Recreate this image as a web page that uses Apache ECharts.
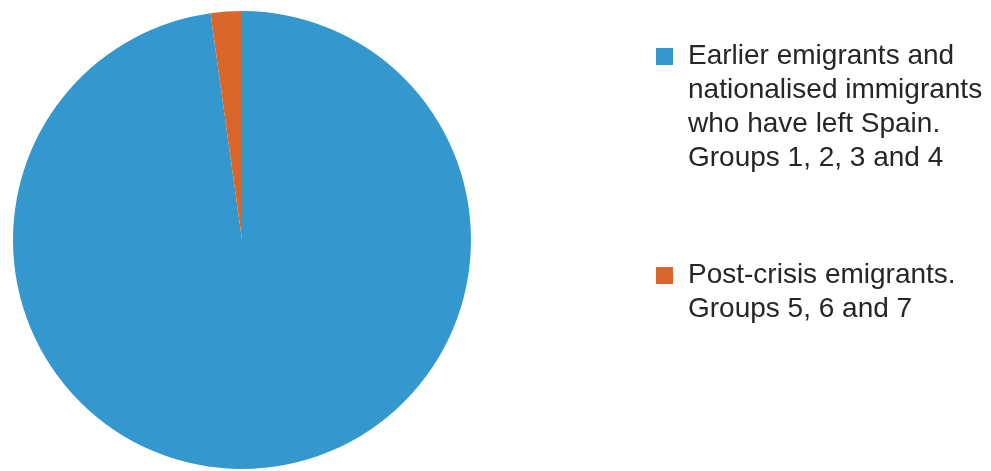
<!DOCTYPE html>
<html>
<head>
<meta charset="utf-8">
<script src="https://cdn.jsdelivr.net/npm/echarts@6/dist/echarts.min.js"></script>
<style>
html,body{margin:0;padding:0;background:#fff;}
#chart{width:991px;height:471px;}
</style>
</head>
<body>
<div id="chart"></div>
<script>
const categories = [
  'Earlier emigrants and\nnationalised immigrants\nwho have left Spain.\nGroups 1, 2, 3 and 4',
  'Post-crisis emigrants.\nGroups 5, 6 and 7'
];
const values = [97.8, 2.2];
const colors = ['#3497cd', '#d9662a'];

const LH = 34;
const chart = echarts.init(document.getElementById('chart'));
chart.setOption({
  animation: false,
  backgroundColor: '#ffffff',
  legend: {
    orient: 'vertical',
    left: 656,
    top: 56.5 - 3.5 * LH,
    padding: 0,
    itemGap: 49,
    itemWidth: 17,
    itemHeight: 17,
    icon: 'rect',
    selectedMode: false,
    formatter: function (name) {
      const n = name.split('\n').length;
      return '\n'.repeat(n - 1) + name;
    },
    data: categories,
    textStyle: {
      fontFamily: 'Liberation Sans, Arial, sans-serif',
      fontSize: 28,
      lineHeight: LH,
      color: '#262626',
      padding: [0, 0, 0, 10]
    }
  },
  series: [{
    type: 'pie',
    center: [242, 240],
    radius: 229,
    startAngle: 90,
    clockwise: true,
    label: { show: false },
    labelLine: { show: false },
    emphasis: { disabled: true },
    itemStyle: { borderWidth: 0 },
    data: categories.map(function (c, i) {
      return { name: c, value: values[i], itemStyle: { color: colors[i] } };
    })
  }]
});
</script>
</body>
</html>
